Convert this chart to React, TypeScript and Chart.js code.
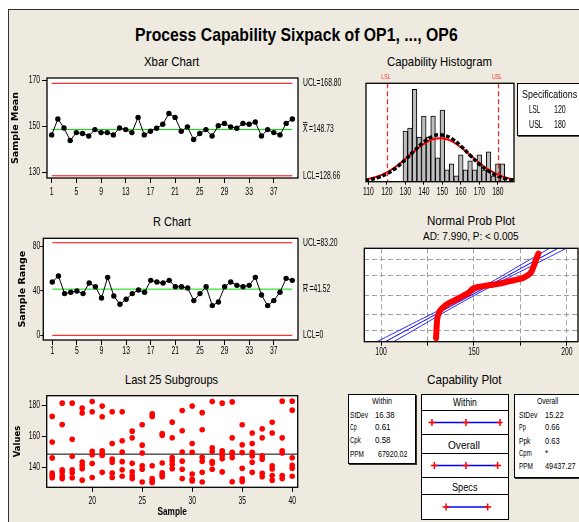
import React, { useEffect, useLayoutEffect, useRef } from 'react';
import { Chart, registerables, LinearScale } from 'chart.js';

Chart.register(...registerables);

const SANS = "'Liberation Sans', Arial, sans-serif";
const VERD = "'DejaVu Sans', Verdana, sans-serif";
const BEIGE = 'rgb(238,234,224)';
const SQ = 0.68;
const TITLE_SQ = 0.75;

// Linear scale whose tick labels are drawn horizontally condensed (like the narrow reference font)
class SqLinear extends (LinearScale as any) {
  static id = 'sqlinear';
  static defaults = (LinearScale as any).defaults;
  _squeezed(sx: number, fn: () => void) {
    const ctx = (this as any).ctx;
    const orig = ctx.fillText;
    ctx.fillText = function (t: string, x: number, y: number) {
      this.save();
      this.translate(x, y);
      this.scale(sx, 1);
      orig.call(this, t, 0, 0);
      this.restore();
    };
    try {
      fn();
    } finally {
      delete ctx.fillText;
    }
  }
  drawLabels(area: any) {
    this._squeezed(SQ, () => super.drawLabels(area));
  }
  drawTitle() {
    if ((this as any).isHorizontal()) this._squeezed(TITLE_SQ, () => super.drawTitle());
    else super.drawTitle();
  }
}
Chart.register(SqLinear as any);

// ---------------- data ----------------
const subgroups = [1, 2, 3, 4, 5, 6, 7, 8, 9, 10, 11, 12, 13, 14, 15, 16, 17, 18, 19, 20, 21, 22, 23, 24, 25, 26, 27, 28, 29, 30, 31, 32, 33, 34, 35, 36, 37, 38, 39, 40];
const sampleTicks = [1, 5, 9, 13, 17, 21, 25, 29, 33, 37];

const xbarValues = [146.4, 153.3, 149.4, 144.0, 147.4, 147.0, 145.9, 148.7, 147.4, 147.4, 146.4, 149.4, 148.7, 147.4, 154.0, 146.4, 148.0, 149.3, 151.0, 155.7, 154.0, 148.0, 149.9, 144.4, 147.0, 148.7, 145.9, 150.4, 151.4, 149.9, 149.3, 151.4, 151.0, 152.0, 145.9, 148.7, 147.4, 146.4, 151.4, 153.3];
const xbarLimits = [168.8, 148.73, 128.66]; // UCL, X-double-bar, LCL
const xbarTicks = [130, 150, 170];

const rangeValues = [47.9, 53.3, 37.5, 38.7, 39.9, 37.5, 47.0, 43.7, 33.6, 52.1, 35.4, 27.9, 32.4, 37.5, 40.7, 38.7, 49.4, 47.9, 47.0, 49.4, 43.7, 43.7, 42.5, 31.2, 37.5, 43.7, 26.7, 30.0, 43.7, 47.9, 44.9, 43.7, 44.9, 52.1, 36.3, 26.7, 31.2, 38.7, 51.2, 49.4];
const rangeLimits = [83.2, 41.52, 0]; // UCL, R-bar, LCL
const rangeTicks = [0, 40, 80];

const lastSubgroups = [16, 17, 18, 19, 20, 21, 22, 23, 24, 25, 26, 27, 28, 29, 30, 31, 32, 33, 34, 35, 36, 37, 38, 39, 40];
const lastValues = [
  [173, 156.5, 146.3, 136.5, 135, 133.5],
  [181.5, 167.8, 138.7, 137.3, 134.7, 133],
  [181.5, 158.3, 147.4, 138.7, 136.8, 133.5],
  [178.3, 175.2, 143.6, 141.5, 139.4, 132],
  [182.5, 176, 150.5, 148.3, 142.7, 133.7],
  [179.6, 172.8, 150.9, 149.2, 147.8, 137],
  [176, 155.6, 145.5, 143.5, 136.5, 133.7],
  [176, 157.3, 150.1, 143.9, 138.7, 134.5],
  [163.5, 159.2, 142.8, 137.3, 134.8, 133],
  [167.6, 154.5, 149.5, 141.3, 139, 130.8],
  [174.6, 173, 141.3, 133, 131.5, 130.5],
  [162, 160.8, 143, 136.8, 135.3, 134.2],
  [169.3, 159.3, 146.6, 144.6, 142.3, 139.4],
  [176.8, 163.8, 150.1, 144.2, 139, 133],
  [179.6, 155.6, 149.9, 136, 132.5, 131.5],
  [175.4, 164.4, 146.7, 144.2, 137.1, 130.8],
  [182.5, 152.8, 150.5, 144, 142.8, 139],
  [181.5, 150.9, 149.5, 147.8, 145.7, 137.3],
  [182.3, 159.2, 149.9, 149, 146.5, 131],
  [167.6, 154.7, 149.7, 139.6, 132.8, 131.2],
  [162.3, 155.6, 149.9, 147.6, 143.5, 137],
  [165, 159.2, 147.6, 145.5, 136.4, 134.2],
  [169.2, 162.3, 141.2, 139.2, 135, 132],
  [182.8, 159.2, 150.9, 149.5, 135, 133],
  [182.8, 177, 146.4, 141.5, 139.6, 134.5],
];
const lastYTicks = [140, 160, 180];
const lastXTicks = [20, 25, 30, 35, 40];

const histBins = [130, 132.5, 135, 137.5, 140, 142.5, 145, 147.5, 150, 152.5, 155, 157.5, 160, 162.5, 165, 167.5, 170, 172.5, 175, 177.5, 180, 182.5];
const histCounts = [17, 18, 31, 15, 22, 15, 22, 8, 24, 4, 6, 2, 9, 4, 7, 4, 9, 4, 10, 2, 6, 6];
const histTicks = [110, 120, 130, 140, 150, 160, 170, 180];
const curveX = [105, 110, 115, 120, 125, 130, 135, 140, 145, 150, 155, 160, 165, 170, 175, 180, 185, 190];
const overallCurve = [0.25, 0.62, 1.35, 2.65, 4.67, 7.38, 10.47, 13.34, 15.26, 15.68, 14.45, 11.96, 8.88, 5.92, 3.55, 1.9, 0.92, 0.4];
const withinCurve = [0.41, 0.89, 1.75, 3.14, 5.11, 7.6, 10.28, 12.67, 14.24, 14.57, 13.58, 11.53, 8.92, 6.29, 4.04, 2.36, 1.26, 0.61];
const specLimits = [120, 180];
const specNames = ['LSL', 'USL'];

const nppValues = [129.6, 129.8, 130.0, 130.3, 131.1, 132.1, 134.5, 137.2, 140.8, 144.3, 147.0, 149.7, 152.4, 155.1, 158.7, 162.3, 165.9, 169.5, 173.1, 176.7, 180.3, 181.7, 182.4, 183.1, 184.2, 184.7];
const nppScores = [-2.81, -2.38, -1.95, -1.52, -1.19, -0.97, -0.69, -0.48, -0.28, -0.04, 0.13, 0.43, 0.52, 0.58, 0.65, 0.71, 0.8, 0.91, 1.0, 1.13, 1.41, 1.73, 1.95, 2.21, 2.55, 2.71];
const fitScores = [-3.05, -2, -1, 0, 1, 2, 3.05];
const fitCenter = [102.3, 118.3, 133.5, 148.7, 164.0, 179.2, 195.2];
const fitLower = [97.8, 114.8, 131.1, 146.8, 161.6, 175.7, 190.7];
const fitUpper = [106.8, 121.8, 135.9, 150.6, 166.4, 182.7, 199.7];
const nppTicks = [100, 125, 150, 175, 200];
const nppLabels = [100, 150, 200];
const nppGrid = [-2.326, -1.282, 0, 1.282, 2.326];

const withinInterval = [99.59, 148.73, 197.87];
const overallInterval = [103.07, 148.73, 194.39];
const withinStats = [['StDev', '16.38'], ['Cp', '0.61'], ['Cpk', '0.58'], ['PPM', '67920.02']];
const overallStats = [['StDev', '15.22'], ['Pp', '0.66'], ['Ppk', '0.63'], ['Cpm', '*'], ['PPM', '49437.27']];

// ---------------- helpers ----------------
function drawSq(ctx: any, text: string, x: number, y: number, sx: number, align = 'left') {
  const w = ctx.measureText(text).width * sx;
  ctx.save();
  ctx.translate(align === 'center' ? x - w / 2 : x, y);
  ctx.scale(sx, 1);
  ctx.textAlign = 'left';
  ctx.fillText(text, 0, 0);
  ctx.restore();
  return w;
}

const boxPlugin = {
  id: 'box',
  beforeDraw(chart: any) {
    const { ctx, chartArea: a } = chart;
    ctx.save();
    ctx.fillStyle = '#ffffff';
    ctx.fillRect(a.left, a.top, a.right - a.left, a.bottom - a.top);
    ctx.restore();
  },
  afterDraw(chart: any) {
    const { ctx, chartArea: a } = chart;
    ctx.save();
    ctx.strokeStyle = '#000';
    ctx.lineWidth = 1.3;
    ctx.strokeRect(a.left, a.top, a.right - a.left, a.bottom - a.top);
    ctx.restore();
  },
};

const limitPlugin = {
  id: 'limits',
  afterDraw(chart: any, _args: any, opts: any) {
    const { ctx, chartArea, scales } = chart;
    const y = scales.y;
    ctx.save();
    ctx.font = `10px ${SANS}`;
    ctx.fillStyle = '#000';
    ctx.textBaseline = 'middle';
    for (const it of opts.items || []) {
      const py = y.getPixelForValue(it.value);
      let x = chartArea.right + 5;
      if (it.sym) {
        const w = drawSq(ctx, it.sym, x, py, SQ);
        ctx.strokeStyle = '#000';
        ctx.lineWidth = 0.8;
        for (let b = 0; b < it.bars; b++) {
          const yy = Math.round(py - 5.5 - b * 2) + 0.5;
          ctx.beginPath();
          ctx.moveTo(x, yy);
          ctx.lineTo(x + w, yy);
          ctx.stroke();
        }
        x += w + 1.5;
      }
      drawSq(ctx, it.text, x, py, SQ);
    }
    ctx.restore();
  },
};

const specPlugin = {
  id: 'specs',
  afterDatasetsDraw(chart: any, _args: any, opts: any) {
    const { ctx, chartArea: a, scales } = chart;
    const x = scales.x;
    ctx.save();
    (opts.values || []).forEach((v: number, i: number) => {
      const px = Math.round(x.getPixelForValue(v)) + 0.5;
      ctx.strokeStyle = '#ff2020';
      ctx.lineWidth = 1.2;
      ctx.setLineDash([5, 3]);
      ctx.beginPath();
      ctx.moveTo(px, a.top);
      ctx.lineTo(px, a.bottom);
      ctx.stroke();
      ctx.setLineDash([]);
      ctx.fillStyle = '#ff3030';
      ctx.font = `6.5px ${SANS}`;
      ctx.textBaseline = 'middle';
      drawSq(ctx, opts.names[i], px - 1.5, a.top - 6.3, 0.8, 'center');
    });
    ctx.restore();
  },
};

const base = (padding: any) => ({
  animation: false,
  responsive: true,
  maintainAspectRatio: false,
  events: [],
  layout: { padding },
  plugins: { legend: { display: false }, tooltip: { enabled: false }, title: { display: false } },
});

const tickFont = { family: SANS, size: 10 };

function xAxis(min: number, max: number, ticks: number[], height: number, tl: number, pad: number, extra: any = {}) {
  return {
    type: 'sqlinear',
    min,
    max,
    offset: false,
    afterBuildTicks: (s: any) => {
      s.ticks = ticks.map((v) => ({ value: v }));
    },
    afterFit: (s: any) => {
      s.height = height;
    },
    ticks: { font: tickFont, color: '#000', padding: pad, autoSkip: false, maxRotation: 0, minRotation: 0 },
    grid: { drawOnChartArea: false, drawTicks: true, tickLength: tl, color: '#000', offset: false },
    border: { display: false },
    ...extra,
  };
}

function yAxis(min: number, max: number, ticks: number[], width: number, tl: number, pad: number, title: any) {
  return {
    type: 'sqlinear',
    min,
    max,
    afterBuildTicks: (s: any) => {
      s.ticks = ticks.map((v) => ({ value: v }));
    },
    afterFit: (s: any) => {
      s.width = width;
    },
    ticks: { font: tickFont, color: '#000', padding: pad, autoSkip: false },
    grid: { drawOnChartArea: false, drawTicks: true, tickLength: tl, color: '#000' },
    border: { display: false },
    title,
  };
}

const lineDs = (pts: any[], color: string, width = 1) => ({
  type: 'line',
  data: pts,
  borderColor: color,
  borderWidth: width,
  pointRadius: 0,
  order: 2,
});

// ---------------- chart configs ----------------
const xbarConfig = () => ({
  type: 'line',
  data: {
    datasets: [
      {
        data: subgroups.map((s, i) => ({ x: s, y: xbarValues[i] })),
        borderColor: '#000',
        borderWidth: 1,
        pointRadius: 2.7,
        pointBackgroundColor: '#000',
        pointBorderWidth: 0,
        order: 0,
      },
      lineDs([{ x: subgroups[0], y: xbarLimits[0] }, { x: subgroups[39], y: xbarLimits[0] }], '#ff0000'),
      lineDs([{ x: subgroups[0], y: xbarLimits[1] }, { x: subgroups[39], y: xbarLimits[1] }], '#00e000'),
      lineDs([{ x: subgroups[0], y: xbarLimits[2] }, { x: subgroups[39], y: xbarLimits[2] }], '#ff0000'),
    ],
  },
  options: {
    ...base({ top: 7, right: 52, left: 0, bottom: 0 }),
    plugins: {
      ...base({}).plugins,
      limits: {
        items: [
          { value: xbarLimits[0], text: `UCL=${xbarLimits[0].toFixed(2)}` },
          { value: xbarLimits[1], sym: 'X', bars: 2, text: `=${xbarLimits[1].toFixed(2)}` },
          { value: xbarLimits[2], text: `LCL=${xbarLimits[2].toFixed(2)}` },
        ],
      },
    },
    scales: {
      x: xAxis(0.24, 40.92, sampleTicks, 22, 5, 3),
      y: yAxis(127.7, 171.1, xbarTicks, 39, 5, 2, {
        display: true,
        text: 'Sample Mean',
        color: '#000',
        font: { family: VERD, size: 9.5, weight: 'bold' },
        padding: { top: 2, bottom: 0 },
      }),
    },
  },
  plugins: [boxPlugin, limitPlugin],
});

const rConfig = () => ({
  type: 'line',
  data: {
    datasets: [
      {
        data: subgroups.map((s, i) => ({ x: s, y: rangeValues[i] })),
        borderColor: '#000',
        borderWidth: 1,
        pointRadius: 2.7,
        pointBackgroundColor: '#000',
        pointBorderWidth: 0,
        order: 0,
      },
      lineDs([{ x: subgroups[0], y: rangeLimits[0] }, { x: subgroups[39], y: rangeLimits[0] }], '#ff0000'),
      lineDs([{ x: subgroups[0], y: rangeLimits[1] }, { x: subgroups[39], y: rangeLimits[1] }], '#00e000'),
      lineDs([{ x: subgroups[0], y: rangeLimits[2] }, { x: subgroups[39], y: rangeLimits[2] }], '#ff0000'),
    ],
  },
  options: {
    ...base({ top: 6.3, right: 52, left: 0, bottom: 0 }),
    plugins: {
      ...base({}).plugins,
      limits: {
        items: [
          { value: rangeLimits[0], text: `UCL=${rangeLimits[0].toFixed(2)}` },
          { value: rangeLimits[1], sym: 'R', bars: 1, text: `=${rangeLimits[1].toFixed(2)}` },
          { value: rangeLimits[2], text: `LCL=${rangeLimits[2]}` },
        ],
      },
    },
    scales: {
      x: xAxis(-0.46, 40.93, sampleTicks, 22, 5, 0),
      y: yAxis(-4.2, 87.2, rangeTicks, 35.3, 3, 0, {
        display: true,
        text: 'Sample Range',
        color: '#000',
        font: { family: VERD, size: 9.5, weight: 'bold' },
        padding: { top: 8.8, bottom: 0 },
      }),
    },
  },
  plugins: [boxPlugin, limitPlugin],
});

const grandMean = xbarLimits[1];
const lastConfig = () => ({
  type: 'scatter',
  data: {
    datasets: [
      {
        type: 'scatter',
        data: lastSubgroups.flatMap((s, i) => lastValues[i].map((v) => ({ x: s, y: v }))),
        pointRadius: 2.8,
        pointBackgroundColor: '#ff0000',
        pointBorderColor: '#ff0000',
        pointBorderWidth: 0,
        order: 0,
      },
      lineDs([{ x: 15.45, y: grandMean }, { x: 40.55, y: grandMean }], '#000'),
    ],
  },
  options: {
    ...base({ top: 6, right: 10.3, left: 0, bottom: 0 }),
    scales: {
      x: xAxis(15.45, 40.55, lastXTicks, 34.7, 4.5, 3, {
        title: {
          display: true,
          text: 'Sample',
          color: '#000',
          font: { family: SANS, size: 11, weight: 'bold' },
          padding: { top: 0, bottom: 3 },
        },
      }),
      y: yAxis(127.4, 186.3, lastYTicks, 38.7, 5, 1.7, {
        display: true,
        text: 'Values',
        color: '#000',
        font: { family: VERD, size: 8.5, weight: 'bold' },
        padding: { top: 4.2, bottom: 0 },
      }),
    },
  },
  plugins: [boxPlugin],
});

const histConfig = () => ({
  type: 'bar',
  data: {
    datasets: [
      {
        type: 'line',
        data: curveX.map((x, i) => ({ x, y: overallCurve[i] })),
        borderColor: '#000',
        borderWidth: 3.5,
        borderDash: [4, 2],
        pointRadius: 0,
        tension: 0.4,
        order: 0,
      },
      {
        type: 'line',
        data: curveX.map((x, i) => ({ x, y: withinCurve[i] })),
        borderColor: '#ff0000',
        borderWidth: 2,
        pointRadius: 0,
        tension: 0.4,
        order: 1,
      },
      {
        type: 'bar',
        data: histBins.map((x, i) => ({ x, y: histCounts[i] })),
        backgroundColor: '#bebebe',
        borderColor: '#000',
        borderWidth: 1,
        barPercentage: 1,
        categoryPercentage: 1,
        grouped: false,
        order: 2,
      },
    ],
  },
  options: {
    ...base({ top: 11.3, right: 4, left: 11, bottom: 0 }),
    plugins: { ...base({}).plugins, specs: { values: specLimits, names: specNames } },
    scales: {
      x: xAxis(108.75, 188.75, histTicks, 18.3, 3, 1.6),
      y: { type: 'linear', min: 0, max: 33, display: false },
    },
  },
  plugins: [boxPlugin, specPlugin],
});

const nppConfig = () => ({
  type: 'line',
  data: {
    datasets: [
      {
        data: nppValues.map((v, i) => ({ x: v, y: nppScores[i] })),
        borderColor: '#ff0000',
        borderWidth: 6,
        borderCapStyle: 'round',
        borderJoinStyle: 'round',
        pointRadius: 0,
        tension: 0.3,
        order: 0,
      },
      { ...lineDs(fitCenter.map((v, i) => ({ x: v, y: fitScores[i] })), '#0000ff'), tension: 0.4 },
      { ...lineDs(fitLower.map((v, i) => ({ x: v, y: fitScores[i] })), '#2a2aff'), tension: 0.4 },
      { ...lineDs(fitUpper.map((v, i) => ({ x: v, y: fitScores[i] })), '#2a2aff'), tension: 0.4 },
    ],
  },
  options: {
    ...base({ top: 4.3, right: 1, left: 9.3, bottom: 0 }),
    scales: {
      x: {
        ...xAxis(91, 206, nppTicks, 20.3, 4, 0.9),
        ticks: {
          font: tickFont,
          color: '#000',
          padding: 0.9,
          autoSkip: false,
          maxRotation: 0,
          callback: (v: number) => (nppLabels.includes(v) ? String(v) : ''),
        },
        grid: { drawOnChartArea: true, drawTicks: true, tickLength: 4, color: '#a0a0a0', tickColor: '#000' },
        border: { display: false, dash: [5, 3] },
      },
      y: {
        type: 'linear',
        min: -3.05,
        max: 3.05,
        afterBuildTicks: (s: any) => {
          s.ticks = nppGrid.map((v) => ({ value: v }));
        },
        afterFit: (s: any) => {
          s.width = 0;
        },
        ticks: { display: false },
        grid: { drawOnChartArea: true, drawTicks: false, color: '#a0a0a0' },
        border: { display: false, dash: [5, 3] },
      },
    },
  },
  plugins: [boxPlugin],
});

const CAP_MIN = 93.2;
const CAP_MAX = 201.4;
const intervalConfig = (vals: number[]) => () => ({
  type: 'line',
  data: {
    datasets: [
      {
        data: vals.map((v) => ({ x: v, y: 0 })),
        borderColor: '#0000ff',
        borderWidth: 1.3,
        pointStyle: 'cross',
        pointRadius: 3.5,
        pointBorderColor: '#ff0000',
        pointBorderWidth: 1.5,
        pointBackgroundColor: '#ff0000',
      },
    ],
  },
  options: {
    ...base({ top: 0, right: 0, left: 0, bottom: 0 }),
    scales: {
      x: { type: 'linear', min: CAP_MIN, max: CAP_MAX, display: false },
      y: { type: 'linear', min: -1, max: 1, display: false },
    },
  },
});

// ---------------- components ----------------
function ChartBox({ left, top, width, height, make }: { left: number; top: number; width: number; height: number; make: () => any }) {
  const ref = useRef<HTMLCanvasElement>(null);
  useEffect(() => {
    const chart = new Chart(ref.current as HTMLCanvasElement, make());
    return () => chart.destroy();
  }, []);
  return (
    <div style={{ position: 'absolute', left, top, width, height }}>
      <canvas ref={ref} />
    </div>
  );
}

function Txt({ x, y, size, w, weight = 'normal', family = SANS, color = '#000', children }: any) {
  const ref = useRef<HTMLSpanElement>(null);
  useLayoutEffect(() => {
    const el = ref.current;
    if (!el) return;
    const nat = el.offsetWidth;
    const sx = w ? w / nat : SQ;
    if (nat > 0) el.style.transform = `scaleX(${sx})`;
  }, []);
  return (
    <span
      ref={ref}
      style={{
        position: 'absolute',
        left: x,
        top: y - 0.85 * size,
        fontSize: size,
        lineHeight: `${size}px`,
        fontFamily: family,
        fontWeight: weight,
        color,
        whiteSpace: 'nowrap',
        transformOrigin: '0 0',
      }}
    >
      {children}
    </span>
  );
}

const boxStyle = (left: number, top: number, width: number, height: number, extra: any = {}) => ({
  position: 'absolute' as const,
  left,
  top,
  width,
  height,
  boxSizing: 'border-box' as const,
  border: '1px solid #000',
  background: '#fff',
  ...extra,
});

// layout (pixel positions / widths of the text in the capability boxes)
const withinLayout = [
  { y: 418.3, lw: 18.3, vx: 375, vw: 20 },
  { y: 431, lw: 7, vx: 375, vw: 16 },
  { y: 444, lw: 10.7, vx: 375, vw: 16 },
  { y: 457.3, lw: 14.3, vx: 378, vw: 29.7 },
];
const overallLayout = [
  { y: 418.3, lw: 18.7, vx: 545, vw: 19 },
  { y: 431, lw: 6.7, vx: 545, vw: 15 },
  { y: 444.3, lw: 11.7, vx: 545, vw: 15 },
  { y: 456.7, lw: 12.7, vx: 545, vw: 3.5 },
  { y: 470, lw: 14.3, vx: 545, vw: 31 },
];

export default function App() {
  const rows = [
    { top: 394, h: 17 },
    { top: 410, h: 25 },
    { top: 434, h: 20 },
    { top: 453, h: 25 },
    { top: 477, h: 18 },
    { top: 494, h: 26 },
  ];
  return (
    <div style={{ position: 'absolute', left: 0, top: 0, width: 579, height: 522, overflow: 'hidden', background: '#fff' }}>
      <div style={{ position: 'absolute', left: 8, top: 9, width: 640, height: 600, background: BEIGE, borderLeft: '1px solid #333', borderTop: '1px solid #333' }} />

      <ChartBox left={8} top={70} width={342} height={130} make={xbarConfig} />
      <ChartBox left={8} top={232} width={342} height={130} make={rConfig} />
      <ChartBox left={8} top={388} width={300} height={134} make={lastConfig} />
      <ChartBox left={355} top={72} width={163} height={128} make={histConfig} />
      <ChartBox left={355} top={244} width={224} height={118} make={nppConfig} />

      {/* Specifications box */}
      <div style={boxStyle(517, 83, 80, 53, { boxShadow: '1px 1px 0 #555' })} />
      <Txt x={522} y={97.7} size={10.5} w={55.3}>Specifications</Txt>
      <Txt x={529.3} y={113.3} size={10} w={11.5}>{specNames[0]}</Txt>
      <Txt x={554} y={113.3} size={10} w={12}>{String(specLimits[0])}</Txt>
      <Txt x={529.3} y={128.3} size={10} w={13.5}>{specNames[1]}</Txt>
      <Txt x={554} y={128.3} size={10} w={12}>{String(specLimits[1])}</Txt>

      {/* Capability plot */}
      <div style={boxStyle(348, 394, 68, 70, { boxShadow: '1px 1px 0 #333' })} />
      <Txt x={371.7} y={405} size={9} w={20}>Within</Txt>
      {withinStats.map((r, i) => (
        <React.Fragment key={'w' + i}>
          <Txt x={350} y={withinLayout[i].y} size={9} w={withinLayout[i].lw}>{r[0]}</Txt>
          <Txt x={withinLayout[i].vx} y={withinLayout[i].y} size={9} w={withinLayout[i].vw}>{r[1]}</Txt>
        </React.Fragment>
      ))}
      <div style={boxStyle(514, 394, 66, 84, { boxShadow: '1px 1px 0 #333' })} />
      <Txt x={536.7} y={405} size={9} w={21.6}>Overall</Txt>
      {overallStats.map((r, i) => (
        <React.Fragment key={'o' + i}>
          <Txt x={519} y={overallLayout[i].y} size={9} w={overallLayout[i].lw}>{r[0]}</Txt>
          <Txt x={overallLayout[i].vx} y={overallLayout[i].y} size={9} w={overallLayout[i].vw}>{r[1]}</Txt>
        </React.Fragment>
      ))}
      {rows.map((r, i) => (
        <div key={'r' + i} style={boxStyle(421, r.top, 88, r.h)} />
      ))}
      <Txt x={453} y={406} size={10.5} w={23.7}>Within</Txt>
      <Txt x={448.3} y={449} size={10.5} w={31.7}>Overall</Txt>
      <Txt x={452} y={491} size={10.5} w={25.3}>Specs</Txt>
      <ChartBox left={422} top={411} width={86} height={23} make={intervalConfig(withinInterval)} />
      <ChartBox left={422} top={454} width={86} height={23} make={intervalConfig(overallInterval)} />
      <ChartBox left={422} top={495} width={86} height={24} make={intervalConfig(specLimits)} />

      {/* Titles */}
      <Txt x={135} y={40.7} size={19} w={323} weight="bold">Process Capability Sixpack of OP1, ..., OP6</Txt>
      <Txt x={144} y={65.7} size={13} w={55.3}>Xbar Chart</Txt>
      <Txt x={153} y={225.7} size={13} w={38}>R Chart</Txt>
      <Txt x={125} y={384.3} size={13} w={93}>Last 25 Subgroups</Txt>
      <Txt x={386.7} y={65.7} size={13} w={105}>Capability Histogram</Txt>
      <Txt x={427} y={225} size={13} w={88}>Normal Prob Plot</Txt>
      <Txt x={422.7} y={240} size={10} w={95.6}>AD: 7.990, P: &lt; 0.005</Txt>
      <Txt x={427.3} y={384.3} size={13} w={74.4}>Capability Plot</Txt>
    </div>
  );
}
